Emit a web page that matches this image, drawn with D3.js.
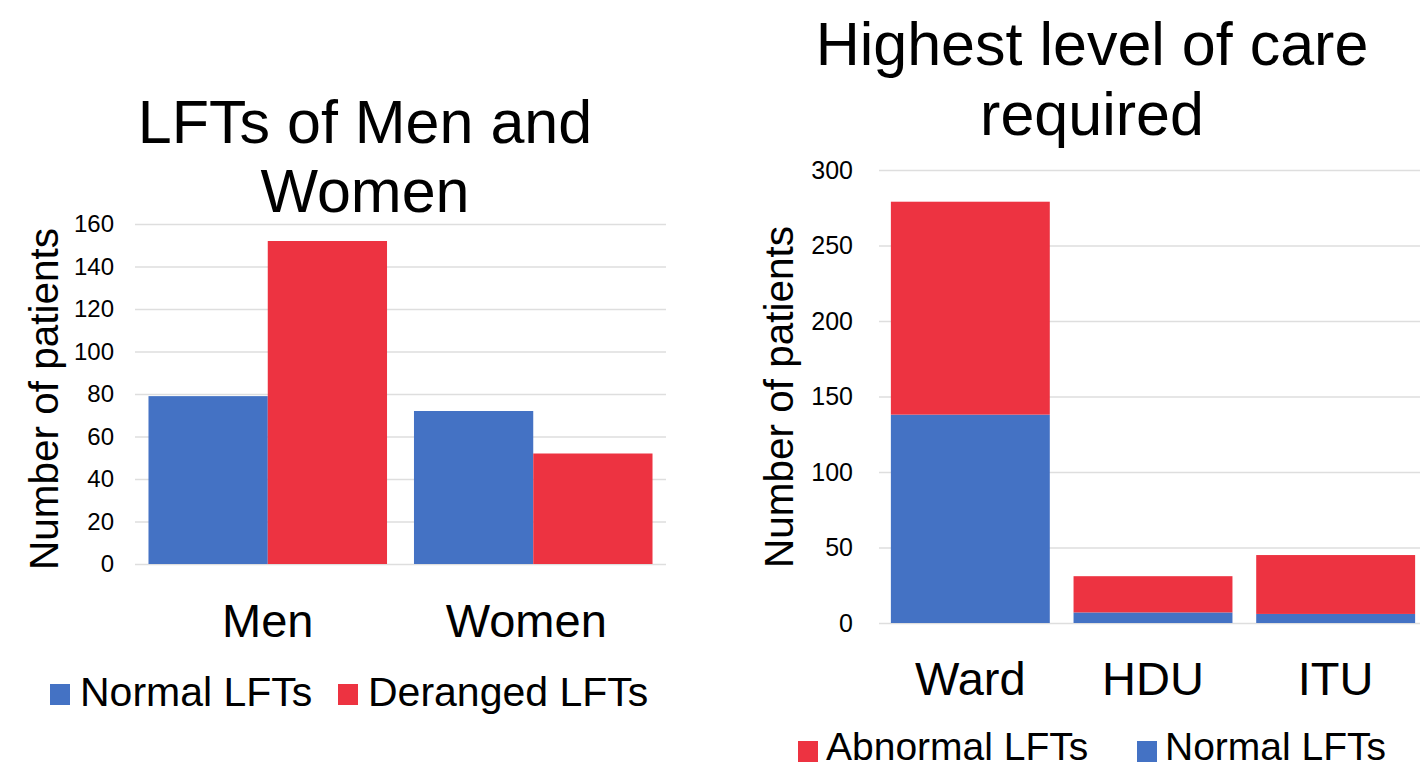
<!DOCTYPE html>
<html>
<head>
<meta charset="utf-8">
<script src="https://cdn.jsdelivr.net/npm/d3@7"></script>
<style>
  body { margin: 0; background: #fff; }
  text { font-family: "Liberation Sans", Arial, sans-serif; fill: #000; }
</style>
</head>
<body>
<div id="chart"></div>
<script>
// data, left chart
const sexCategories = ["Men", "Women"];
const lftSeries = ["Normal LFTs", "Deranged LFTs"];
const normalBySex = [79, 72];
const derangedBySex = [152, 52];
const leftTicks = [0, 20, 40, 60, 80, 100, 120, 140, 160];

// data, right chart
const careCategories = ["Ward", "HDU", "ITU"];
const careNormal = [138, 7, 6];
const careAbnormal = [141, 24, 39];
const rightTicks = [0, 50, 100, 150, 200, 250, 300];

const BLUE = "#4472c4", RED = "#ed3341", GRID = "#dedede";

const svg = d3.select("#chart").append("svg")
  .attr("width", 1420).attr("height", 770);

/* ---------- left: grouped bars ---------- */
const L = { x0: 135, x1: 666, y0: 564, y1: 224 };

const lx = d3.scaleBand().domain(sexCategories)
  .range([L.x0, L.x1]).paddingInner(0.1015).paddingOuter(0.0508);
const lx1 = d3.scaleBand().domain(lftSeries).range([0, lx.bandwidth()]);
const ly = d3.scaleLinear().domain([0, 160]).range([L.y0, L.y1]);
const lColor = d3.scaleOrdinal().domain(lftSeries).range([BLUE, RED]);

const leftAxis = svg.append("g").attr("transform", `translate(${L.x0},0)`)
  .call(d3.axisLeft(ly).tickValues(leftTicks).tickSize(-(L.x1 - L.x0)).tickPadding(21));
leftAxis.select(".domain").remove();
leftAxis.selectAll("line").attr("stroke", GRID).attr("stroke-width", 1.5);
leftAxis.selectAll("text").style("font-size", "24px");

const leftRows = sexCategories.map((c, i) => ({ cat: c, vals: [normalBySex[i], derangedBySex[i]] }));
svg.append("g").selectAll("g").data(leftRows).join("g")
  .attr("transform", d => `translate(${lx(d.cat)},0)`)
  .selectAll("rect").data(d => d.vals.map((v, j) => ({ key: lftSeries[j], v })))
  .join("rect")
  .attr("x", d => lx1(d.key))
  .attr("width", lx1.bandwidth())
  .attr("y", d => ly(d.v))
  .attr("height", d => ly(0) - ly(d.v))
  .attr("fill", d => lColor(d.key));

svg.append("g").selectAll("text").data(sexCategories).join("text")
  .attr("x", (d, i) => lx(d) + lx.bandwidth() / 2 - i * 7)
  .attr("y", 637)
  .attr("text-anchor", "middle")
  .style("font-size", "47px")
  .text(d => d);

svg.append("text")
  .attr("transform", "translate(58,399) rotate(-90)")
  .attr("text-anchor", "middle")
  .style("font-size", "40.5px")
  .text("Number of patients");

svg.append("text")
  .attr("text-anchor", "middle")
  .style("font-size", "61px")
  .selectAll("tspan").data(["LFTs of Men and", "Women"]).join("tspan")
  .attr("x", 365).attr("y", (d, i) => 143 + i * 69)
  .text(d => d);

// legend left
const legL = svg.append("g");
[[50, lftSeries[0], BLUE], [338, lftSeries[1], RED]].forEach(([x, label, c]) => {
  legL.append("rect").attr("x", x).attr("y", 684).attr("width", 20).attr("height", 21).attr("fill", c);
  legL.append("text").attr("x", x + 30).attr("y", 706).style("font-size", "41px").text(label);
});

/* ---------- right: stacked bars ---------- */
const R = { x0: 879, x1: 1427, y0: 623, y1: 170 };

const rx = d3.scaleBand().domain(careCategories)
  .range([R.x0, R.x1]).paddingInner(0.13).paddingOuter(0.065);
const ry = d3.scaleLinear().domain([0, 300]).range([R.y0, R.y1]);

const rightAxis = svg.append("g").attr("transform", `translate(${R.x0},0)`)
  .call(d3.axisLeft(ry).tickValues(rightTicks).tickSize(-(R.x1 - R.x0)).tickPadding(26));
rightAxis.select(".domain").remove();
rightAxis.selectAll("line").attr("stroke", GRID).attr("stroke-width", 1.5);
rightAxis.selectAll("text").style("font-size", "25px");

const careRows = careCategories.map((c, i) => ({ cat: c, normal: careNormal[i], abnormal: careAbnormal[i] }));
const stack = d3.stack().keys(["normal", "abnormal"])(careRows);
const rColor = { normal: BLUE, abnormal: RED };

svg.append("g").selectAll("g").data(stack).join("g")
  .attr("fill", d => rColor[d.key])
  .selectAll("rect").data(d => d).join("rect")
  .attr("x", d => rx(d.data.cat))
  .attr("width", rx.bandwidth())
  .attr("y", d => ry(d[1]))
  .attr("height", d => ry(d[0]) - ry(d[1]));

svg.append("g").selectAll("text").data(careCategories).join("text")
  .attr("x", d => rx(d) + rx.bandwidth() / 2)
  .attr("y", 695)
  .attr("text-anchor", "middle")
  .style("font-size", "47px")
  .text(d => d);

svg.append("text")
  .attr("transform", "translate(793,397) rotate(-90)")
  .attr("text-anchor", "middle")
  .style("font-size", "40.5px")
  .text("Number of patients");

svg.append("text")
  .attr("text-anchor", "middle")
  .style("font-size", "61px")
  .selectAll("tspan").data(["Highest level of care", "required"]).join("tspan")
  .attr("x", 1092).attr("y", (d, i) => 65 + i * 70)
  .text(d => d);

// legend right
const legR = svg.append("g");
[[798, "Abnormal LFTs", RED], [1137, "Normal LFTs", BLUE]].forEach(([x, label, c]) => {
  legR.append("rect").attr("x", x).attr("y", 741).attr("width", 20).attr("height", 21).attr("fill", c);
  legR.append("text").attr("x", x + 28).attr("y", 760).style("font-size", "39px").text(label);
});
</script>
</body>
</html>
